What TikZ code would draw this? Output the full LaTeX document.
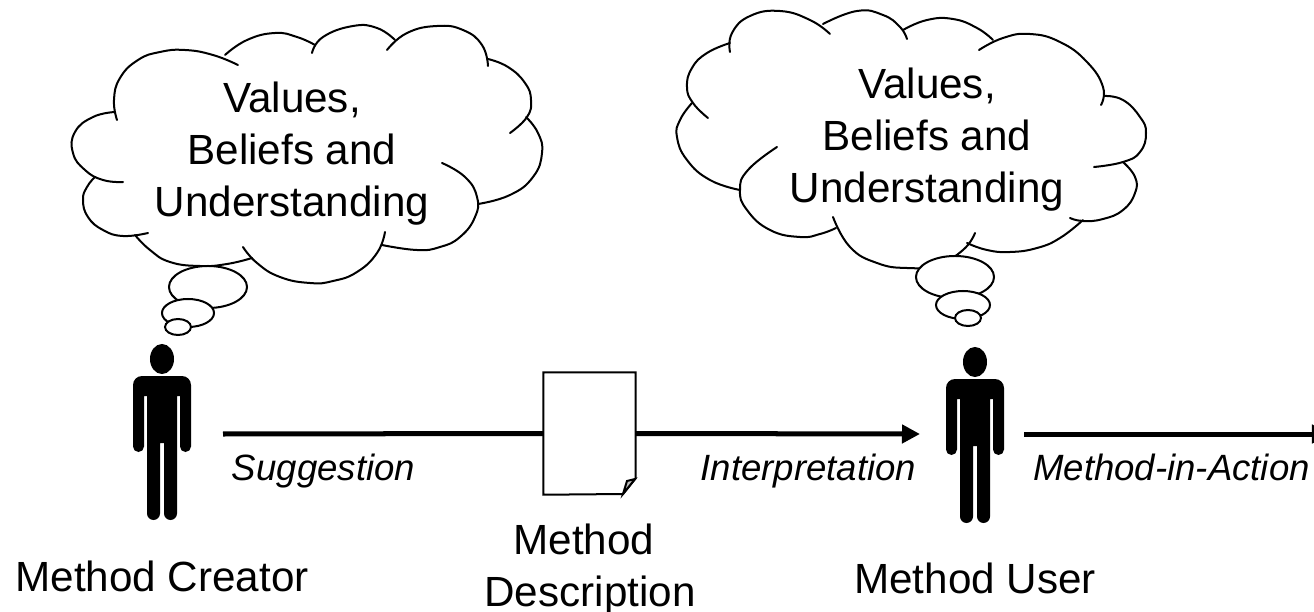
\documentclass[tikz,border=0pt]{standalone}
\usepackage{fontspec}
\setmainfont{Liberation Sans}
\usetikzlibrary{arrows.meta}

\tikzset{
    lobe/.style={line width=0.02cm, line cap=round, smooth, tension=0.8},
    puff/.style={line width=0.02cm, fill=white},
    flow/.style={line width=0.05cm, -{Triangle[length=0.18cm, width=0.18cm]}},
    flowplain/.style={line width=0.05cm},
    thought/.style={font=\fontsize{12}{14.8}\selectfont, align=center},
    caption/.style={font=\fontsize{12}{14.8}\selectfont, align=center},
    process/.style={font=\fontsize{10.4}{12}\selectfont\itshape, anchor=base},
    person/.pic={
        \fill (0,-17) ellipse [x radius=0.12cm, y radius=0.15cm];
        \fill[rounded corners=0.09cm] (0,0) -- (29,0) [rounded corners=0.055cm] -- (29,76) -- (18,76)
            [sharp corners] -- (18,20) -- (15,20) [rounded corners=0.065cm] -- (15,144) -- (2,144)
            [sharp corners] -- (2,67) -- (-2,67) [rounded corners=0.065cm] -- (-2,144) -- (-15,144)
            [sharp corners] -- (-15,20) -- (-18,20) [rounded corners=0.055cm] -- (-18,76) -- (-29,76)
            [rounded corners=0.09cm] -- (-29,0) [sharp corners] -- cycle;
    }
}

\begin{document}
\begin{tikzpicture}[x=0.01cm, y=-0.01cm]

    % Page
    \path[use as bounding box] (0,0) rectangle (1314,612);
    \clip (0,0) rectangle (1314,612);

    % Left cloud
    \draw[lobe] plot[lobe] coordinates {(117,120)(114,100)(120,78)(138,60)(160,52)(185,50)(213,55)(238,65)};
    \draw[lobe] plot[lobe] coordinates {(225,55)(247,40)(275,33)(297,37)(315,45)};
    \draw[lobe] plot[lobe] coordinates {(312,53)(323,37)(353,26)(377,28)(395,40)};
    \draw[lobe] plot[lobe] coordinates {(387,50)(407,33)(437,26)(463,30)(482,45)(488,66)};
    \draw[lobe] plot[lobe] coordinates {(488,59)(508,67)(525,83)(531,100)(527,117)(510,133)};
    \draw[lobe] plot[lobe] coordinates {(526,117)(538,133)(542,153)(533,177)(510,195)(478,204)};
    \draw[lobe] plot[lobe] coordinates {(442,163)(465,177)(477,197)(475,217)(460,237)(440,247)(417,250)(382,245)};
    \draw[lobe] plot[lobe] coordinates {(385,232)(377,253)(357,272)(333,281)(310,283)(280,277)(257,263)(243,247)};
    \draw[lobe] plot[lobe] coordinates {(252,258)(227,264)(200,266)(170,262)(150,250)(135,235)};
    \draw[lobe] plot[lobe] coordinates {(148,233)(123,236)(103,230)(88,217)(83,200)(87,187)(95,177)};
    \draw[lobe] plot[lobe] coordinates {(123,182)(103,180)(85,170)(73,153)(75,132)(93,117)(115,112)};

    % Left cloud tail
    \draw[puff] (208,287) ellipse [x radius=0.39cm, y radius=0.21cm];
    \draw[puff] (188,313) ellipse [x radius=0.26cm, y radius=0.14cm];
    \draw[puff] (178,327) ellipse [x radius=0.13cm, y radius=0.08cm];

    % Right cloud
    \draw[lobe] plot[lobe] coordinates {(730,52)(732,33)(750,16)(780,11)(810,20)(830,34)};
    \draw[lobe] plot[lobe] coordinates {(823,24)(857,11)(883,15)(900,27)(907,39)};
    \draw[lobe] plot[lobe] coordinates {(903,30)(927,20)(953,19)(977,28)(993,40)};
    \draw[lobe] plot[lobe] coordinates {(979,50)(1003,38)(1030,34)(1060,42)(1087,62)(1103,87)(1101,105)};
    \draw[lobe] plot[lobe] coordinates {(1104,96)(1123,100)(1140,117)(1146,133)(1140,152)(1123,162)(1094,167)};
    \draw[lobe] plot[lobe] coordinates {(1123,162)(1135,177)(1135,193)(1123,210)(1103,219)(1083,221)(1070,218)};
    \draw[lobe] plot[lobe] coordinates {(1083,220)(1060,238)(1037,248)(1010,252)(987,250)(967,243)};
    \draw[lobe] plot[lobe] coordinates {(975,233)(963,250)(937,265)(907,268)(877,263)(850,247)(833,217)};
    \draw[lobe] plot[lobe] coordinates {(836,228)(820,234)(800,237)(770,230)(747,210)(740,190)(748,170)(777,147)};
    \draw[lobe] plot[lobe] coordinates {(740,190)(710,180)(687,160)(677,137)(680,120)(692,103)};
    \draw[lobe] plot[lobe] coordinates {(708,118)(693,103)(687,87)(692,68)(707,53)(730,43)};

    % Right cloud tail
    \draw[puff] (955,277) ellipse [x radius=0.39cm, y radius=0.21cm];
    \draw[puff] (963,305) ellipse [x radius=0.27cm, y radius=0.14cm];
    \draw[puff] (968,318) ellipse [x radius=0.13cm, y radius=0.08cm];

    % Cloud texts
    \node[thought] (creatorthought) at (292,154) {Values,\\Beliefs and\\Understanding};
    \node[thought] (userthought) at (927,140) {Values,\\Beliefs and\\Understanding};

    % People
    \pic at (162,376) {person};
    \pic at (975,379) {person};

    % Document
    \node[minimum width=0.91cm, minimum height=1.21cm, inner sep=0pt] (doc) at (589.5,433.5) {};
    \draw[line width=0.02cm, fill=white] (doc.north west) -- (doc.north east) -- ++(0,106)
        -- (623,494) -- (doc.south west) -- cycle;
    \draw[line width=0.02cm, fill=black!25] (623,494) -- (627,481) -- (635,479) -- cycle;

    % Arrows
    \coordinate (creatorout) at (223,434);
    \coordinate (userin) at (920,434);
    \coordinate (userout) at (1024,434);
    \coordinate (actionend) at (1330,434);
    \draw[flowplain] (creatorout) -- (doc.west);
    \draw[flow] (doc.east) -- (userin);
    \draw[flow] (userout) -- (actionend);

    % Arrow labels
    \node[process] (suggestion) at (323.5,480) {Suggestion};
    \node[process] (interpretation) at (808.5,480) {Interpretation};
    \node[process] (methodinaction) at (1171.5,480) {Method-in-Action};

    % Captions
    \node[caption, anchor=base] (creator) at (162,591) {Method Creator};
    \node[caption] (description) at (590,570) {Method\hspace*{3.4pt}\\Description};
    \node[caption, anchor=base] (user) at (975,593) {Method User};

\end{tikzpicture}
\end{document}
